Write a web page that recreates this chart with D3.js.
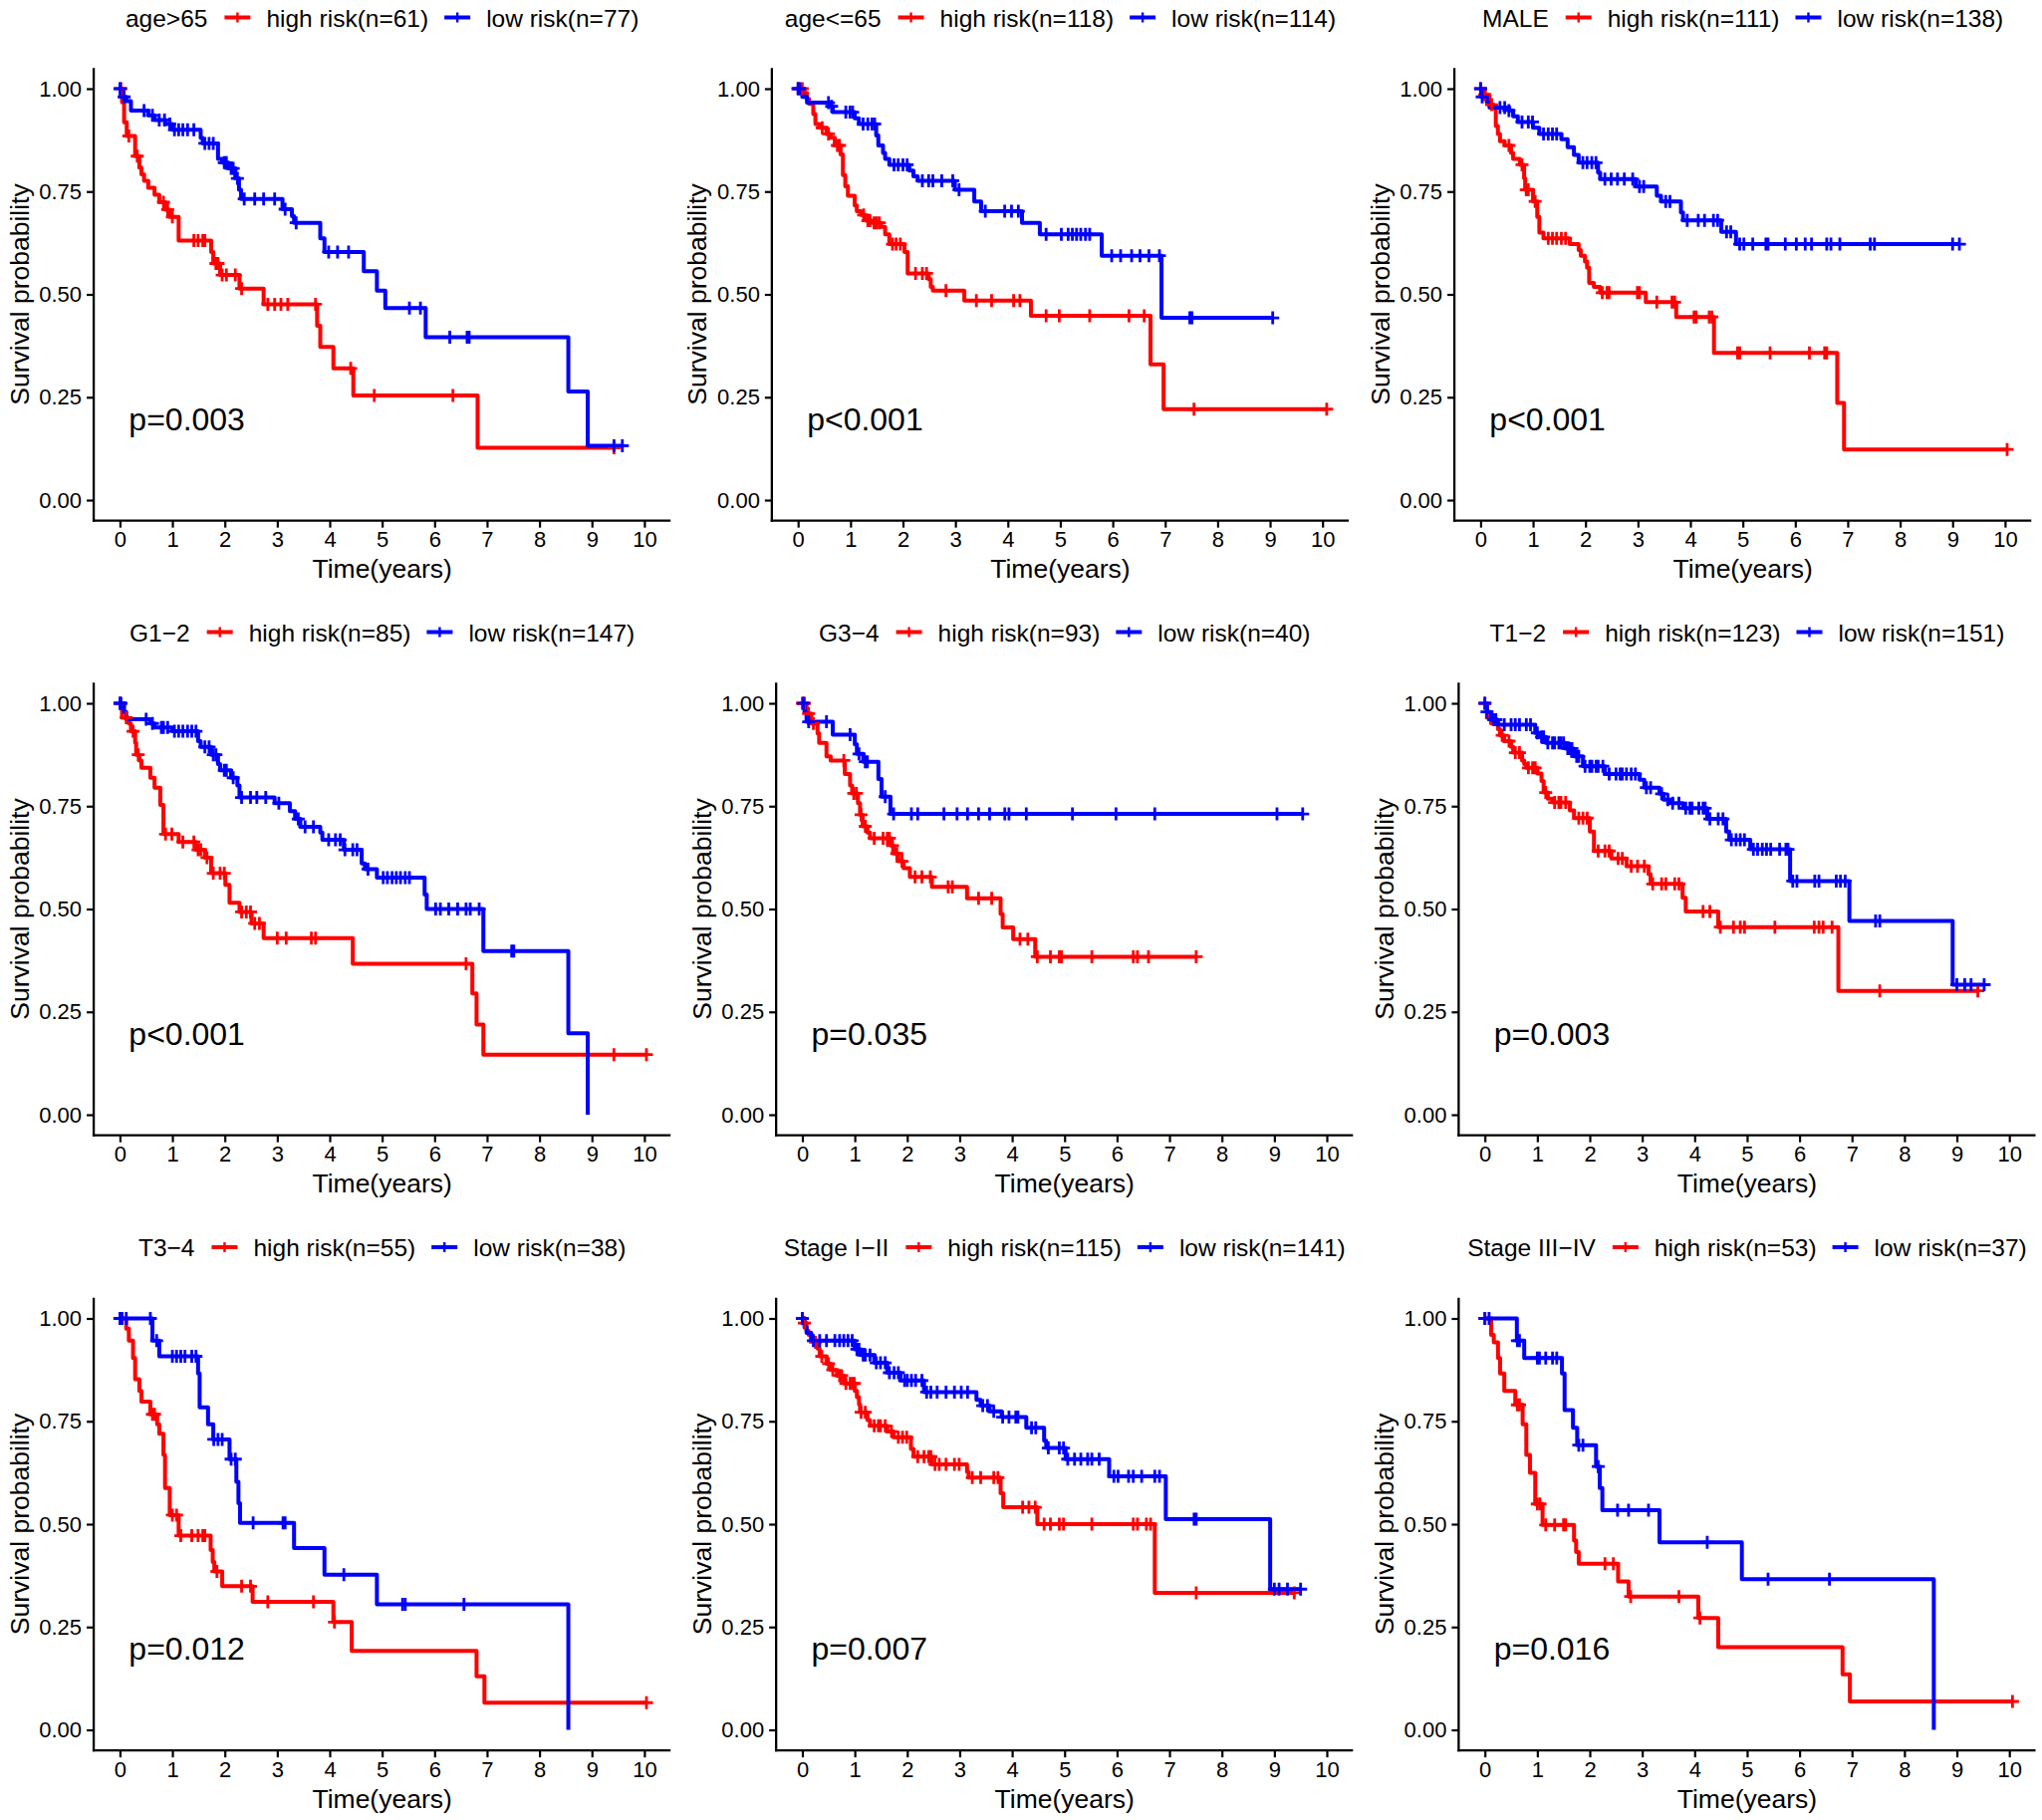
<!DOCTYPE html>
<html><head><meta charset="utf-8">
<script src="https://cdn.jsdelivr.net/npm/d3@7"></script>
<style>
body{margin:0;background:#fff}
svg{display:block}
text{font-family:"Liberation Sans",Arial,sans-serif;fill:#000}
</style>
</head><body><svg id="chart" width="2050" height="1827"></svg>
<script>
// ---------------- data ----------------
const panelTitles = ["age>65","age<=65","MALE","G1\u22122","G3\u22124","T1\u22122","T3\u22124","Stage I\u2212II","Stage III\u2212IV"];
const highN = [61,118,111,85,93,123,55,115,53];
const lowN  = [77,114,138,147,40,151,38,141,37];
const pLabels = ["p=0.003","p<0.001","p<0.001","p<0.001","p=0.035","p=0.003","p=0.012","p=0.007","p=0.016"];
const xTicks = [0,1,2,3,4,5,6,7,8,9,10];
const yTicks = [0,0.25,0.5,0.75,1];
const yTickLabels = ["0.00","0.25","0.50","0.75","1.00"];
const groupLabels = ["high risk","low risk"];
const groupColors = ["#FF0000","#0000FF"];

// panel 1: age>65
const ageGt65HighSteps = [[0,1],[0.04,0.967],[0.08,0.918],[0.13,0.885],[0.29,0.836],[0.37,0.808],[0.41,0.792],[0.46,0.776],[0.54,0.759],[0.66,0.742],[0.75,0.724],[0.87,0.706],[0.95,0.688],[1.12,0.631],[1.74,0.603],[1.78,0.575],[1.91,0.547],[2.28,0.514],[2.74,0.476],[3.76,0.424],[3.82,0.372],[4.07,0.32],[4.45,0.254],[6.82,0.127]];
const ageGt65HighCensor = [0.02,0.17,0.33,0.83,0.91,1.0,1.41,1.49,1.58,1.62,1.83,1.87,1.95,2.03,2.2,2.32,2.82,2.95,3.07,3.2,3.73,4.4,4.85,6.35,9.42];
const ageGt65LowSteps = [[0,1],[0.02,0.98],[0.12,0.97],[0.21,0.947],[0.54,0.935],[0.66,0.924],[0.87,0.914],[1.0,0.9],[1.54,0.88],[1.58,0.867],[1.87,0.829],[1.95,0.82],[2.07,0.806],[2.2,0.782],[2.27,0.754],[2.31,0.732],[3.1,0.707],[3.28,0.69],[3.32,0.674],[3.82,0.636],[3.9,0.603],[4.65,0.556],[4.9,0.509],[5.06,0.467],[5.83,0.396],[8.55,0.264],[8.92,0.132]];
const ageGt65LowCensor = [0,0.08,0.46,0.62,0.75,0.85,0.95,1.04,1.12,1.2,1.29,1.41,1.62,1.7,1.78,1.99,2.03,2.12,2.16,2.24,2.37,2.57,2.74,2.95,3.15,3.36,3.98,4.15,4.36,5.52,5.73,6.29,6.62,6.66,9.42,9.58];

// panel 2: age<=65
const ageLe65HighSteps = [[0,1],[0.12,0.99],[0.17,0.975],[0.21,0.963],[0.29,0.938],[0.33,0.914],[0.41,0.905],[0.54,0.89],[0.62,0.881],[0.7,0.862],[0.81,0.84],[0.855,0.79],[0.9,0.763],[0.95,0.74],[1.08,0.716],[1.12,0.702],[1.2,0.693],[1.29,0.679],[1.41,0.674],[1.58,0.664],[1.66,0.646],[1.74,0.622],[2.03,0.603],[2.09,0.551],[2.49,0.537],[2.53,0.518],[2.57,0.509],[3.17,0.485],[4.44,0.448],[6.72,0.33],[6.97,0.221]];
const ageLe65HighCensor = [0,0.08,0.46,0.58,0.75,0.79,1.25,1.33,1.37,1.45,1.5,1.55,1.8,1.87,1.95,2.24,2.37,2.45,2.82,3.4,3.69,4.11,4.23,4.73,4.98,5.56,6.31,6.6,7.55,10.08];
const ageLe65LowSteps = [[0,1],[0.04,0.99],[0.08,0.98],[0.17,0.966],[0.62,0.957],[0.66,0.943],[1.08,0.928],[1.16,0.914],[1.49,0.886],[1.53,0.862],[1.62,0.844],[1.66,0.829],[1.74,0.815],[2.12,0.801],[2.2,0.787],[2.28,0.776],[2.99,0.754],[3.36,0.726],[3.49,0.702],[4.27,0.674],[4.61,0.646],[5.79,0.594],[6.93,0.443]];
const ageLe65LowCensor = [0,0.03,0.58,0.64,0.91,0.99,1.04,1.24,1.33,1.41,1.46,1.83,1.91,2.0,2.08,2.37,2.49,2.57,2.74,2.95,3.07,3.57,3.94,4.07,4.2,4.73,5.02,5.15,5.23,5.31,5.39,5.48,5.56,5.98,6.15,6.36,6.52,6.69,6.89,7.47,7.51,9.05];

// panel 3: MALE
const maleHighSteps = [[0,1],[0.08,0.985],[0.17,0.961],[0.25,0.952],[0.29,0.909],[0.33,0.89],[0.37,0.872],[0.46,0.862],[0.58,0.844],[0.62,0.829],[0.75,0.815],[0.83,0.782],[0.85,0.754],[1.0,0.726],[1.08,0.688],[1.12,0.65],[1.2,0.636],[1.7,0.622],[1.87,0.608],[1.91,0.594],[1.99,0.58],[2.03,0.565],[2.07,0.528],[2.16,0.518],[2.28,0.504],[3.15,0.481],[3.73,0.445],[4.45,0.358],[6.8,0.236],[6.93,0.123]];
const maleHighCensor = [0,0.08,0.21,0.54,0.79,0.87,0.91,1.04,1.29,1.37,1.45,1.54,1.62,2.32,2.41,2.45,2.99,3.03,3.36,3.65,3.7,4.07,4.11,4.36,4.41,4.9,4.94,5.52,6.27,6.56,6.6,10.04];
const maleLowSteps = [[0,1],[0.01,0.98],[0.12,0.966],[0.17,0.954],[0.54,0.947],[0.62,0.933],[0.71,0.919],[1.0,0.905],[1.12,0.89],[1.54,0.877],[1.66,0.858],[1.78,0.839],[1.87,0.82],[2.24,0.796],[2.28,0.78],[2.96,0.762],[3.36,0.74],[3.44,0.726],[3.82,0.699],[3.86,0.68],[4.59,0.652],[4.87,0.622]];
const maleLowCensor = [0,0.03,0.37,0.46,0.54,0.79,0.91,0.99,1.2,1.29,1.37,1.45,1.95,2.03,2.12,2.2,2.37,2.49,2.61,2.74,2.9,3.03,3.11,3.53,3.61,3.94,4.15,4.27,4.44,4.52,4.69,4.77,4.94,5.02,5.19,5.44,5.48,5.81,6.02,6.19,6.31,6.6,6.68,6.85,7.43,7.51,9.0,9.13];

// panel 4: G1-2
const g12HighSteps = [[0,1],[0.04,0.965],[0.17,0.951],[0.21,0.932],[0.29,0.904],[0.31,0.875],[0.37,0.861],[0.41,0.843],[0.58,0.819],[0.66,0.795],[0.77,0.753],[0.83,0.682],[1.12,0.663],[1.45,0.644],[1.62,0.625],[1.74,0.587],[2.01,0.559],[2.09,0.515],[2.28,0.493],[2.51,0.465],[2.74,0.429],[4.44,0.367],[6.72,0.295],[6.8,0.219],[6.93,0.146]];
const g12HighCensor = [0,0.12,0.25,0.35,0.87,0.99,1.2,1.41,1.49,1.54,1.66,1.78,1.91,1.99,2.32,2.41,2.49,2.57,2.66,3.0,3.17,3.65,3.73,6.6,9.42,10.04];
const g12LowSteps = [[0,1],[0.08,0.979],[0.12,0.961],[0.58,0.951],[0.66,0.941],[1.0,0.932],[1.49,0.908],[1.54,0.894],[1.74,0.875],[1.87,0.852],[1.91,0.837],[2.12,0.819],[2.24,0.8],[2.28,0.771],[2.95,0.757],[3.24,0.738],[3.34,0.719],[3.44,0.7],[3.82,0.686],[3.86,0.668],[4.27,0.644],[4.61,0.611],[4.67,0.597],[4.9,0.576],[5.81,0.535],[5.85,0.5],[6.93,0.398],[8.55,0.198],[8.92,0]];
const g12LowCensor = [0,0.02,0.5,0.62,0.79,0.83,0.91,1.04,1.12,1.2,1.29,1.37,1.45,1.62,1.7,1.78,1.83,1.99,2.03,2.16,2.32,2.49,2.61,2.78,3.03,3.4,3.53,3.69,3.98,4.11,4.2,4.29,4.44,4.52,4.73,5.02,5.1,5.19,5.27,5.35,5.44,5.52,6.02,6.11,6.27,6.44,6.6,6.68,6.85,7.47,7.51];

// panel 5: G3-4
const g34HighSteps = [[0,1],[0.08,0.975],[0.17,0.951],[0.29,0.927],[0.32,0.904],[0.46,0.871],[0.54,0.861],[0.81,0.828],[0.91,0.8],[0.95,0.781],[1.06,0.757],[1.1,0.729],[1.15,0.701],[1.24,0.686],[1.29,0.672],[1.7,0.654],[1.74,0.635],[1.83,0.616],[1.93,0.599],[2.05,0.578],[2.47,0.554],[3.14,0.526],[3.78,0.488],[3.82,0.455],[4.02,0.427],[4.44,0.384]];
const g34HighCensor = [0,0.04,0.12,0.21,0.79,0.98,1.03,1.12,1.2,1.37,1.54,1.62,1.66,1.72,1.8,1.9,2.15,2.28,2.44,2.78,2.86,3.36,3.61,4.15,4.3,4.48,4.73,4.9,4.94,5.52,6.31,6.39,6.6,7.51];
const g34LowSteps = [[0,1],[0.04,0.98],[0.08,0.955],[0.58,0.924],[1.0,0.9],[1.04,0.877],[1.16,0.858],[1.45,0.816],[1.51,0.773],[1.68,0.731]];
const g34LowCensor = [0.02,0.12,0.46,0.91,1.08,1.2,1.24,1.58,1.74,2.08,2.2,2.7,2.95,3.15,3.36,3.57,3.86,3.94,4.27,5.15,5.98,6.72,9.05,9.54];

// panel 6: T1-2
const t12HighSteps = [[0,1],[0.04,0.965],[0.12,0.951],[0.25,0.937],[0.29,0.922],[0.37,0.908],[0.5,0.894],[0.54,0.88],[0.71,0.861],[0.75,0.852],[0.79,0.843],[1.0,0.829],[1.08,0.811],[1.12,0.783],[1.2,0.768],[1.29,0.759],[1.62,0.74],[1.7,0.721],[2.0,0.688],[2.08,0.641],[2.41,0.623],[2.7,0.604],[3.12,0.585],[3.16,0.561],[3.77,0.527],[3.83,0.494],[4.45,0.456],[6.74,0.301]];
const t12HighCensor = [0,0.33,0.46,0.58,0.66,0.83,0.91,0.96,1.16,1.33,1.41,1.45,1.54,1.79,1.87,1.95,2.16,2.29,2.37,2.54,2.62,2.79,2.91,3.04,3.2,3.37,3.45,3.62,3.7,4.16,4.29,4.49,4.74,4.87,4.95,5.53,6.28,6.37,6.45,6.62,7.53,9.4];
const t12LowSteps = [[0,1],[0.04,0.979],[0.12,0.96],[0.25,0.948],[0.96,0.928],[1.04,0.918],[1.16,0.904],[1.54,0.89],[1.7,0.871],[1.87,0.847],[2.29,0.828],[2.95,0.814],[3.04,0.795],[3.33,0.78],[3.41,0.766],[3.54,0.757],[3.78,0.745],[4.24,0.719],[4.6,0.688],[4.66,0.668],[5.06,0.645],[5.82,0.568],[6.95,0.471],[8.92,0.316]];
const t12LowCensor = [0,0.04,0.17,0.21,0.37,0.5,0.58,0.66,0.79,0.87,1.0,1.08,1.12,1.2,1.29,1.33,1.41,1.45,1.5,1.58,1.62,1.66,1.75,1.79,1.91,2.0,2.04,2.12,2.16,2.25,2.37,2.5,2.58,2.62,2.7,2.79,2.87,3.08,3.16,3.37,3.49,3.58,3.7,3.83,3.91,3.95,4.08,4.16,4.2,4.29,4.45,4.54,4.7,4.79,4.87,4.95,5.12,5.2,5.29,5.37,5.45,5.62,5.74,5.78,5.87,5.95,6.29,6.37,6.7,6.78,6.87,7.45,7.53,9.0,9.15,9.27,9.52];

// panel 7: T3-4
const t34HighSteps = [[0,1],[0.12,0.975],[0.17,0.946],[0.25,0.904],[0.29,0.852],[0.37,0.824],[0.41,0.798],[0.58,0.767],[0.71,0.743],[0.75,0.72],[0.83,0.668],[0.86,0.588],[0.95,0.522],[1.12,0.472],[1.73,0.437],[1.77,0.408],[1.8,0.385],[1.95,0.349],[2.53,0.311],[4.07,0.262],[4.42,0.192],[6.8,0.13],[6.95,0.066]];
const t34HighCensor = [0,0.62,0.66,1.0,1.08,1.16,1.37,1.49,1.58,1.62,1.85,2.32,2.49,2.82,3.69,4.09,10.04];
const t34LowSteps = [[0,1],[0.62,0.946],[0.75,0.908],[1.49,0.866],[1.52,0.784],[1.68,0.743],[1.78,0.706],[2.09,0.658],[2.22,0.603],[2.26,0.551],[2.29,0.503],[3.32,0.442],[3.9,0.377],[4.9,0.305],[8.55,0]];
const t34LowCensor = [0,0.04,0.12,0.58,0.7,1.0,1.08,1.16,1.24,1.37,1.45,1.79,1.87,1.95,2.12,2.2,2.54,3.11,3.15,4.27,5.39,5.44,6.56];

// panel 8: Stage I-II
const s12HighSteps = [[0,1],[0.04,0.989],[0.08,0.97],[0.12,0.96],[0.17,0.951],[0.21,0.942],[0.29,0.927],[0.33,0.908],[0.46,0.89],[0.54,0.875],[0.66,0.861],[0.79,0.842],[1.0,0.824],[1.04,0.809],[1.08,0.791],[1.1,0.772],[1.24,0.753],[1.29,0.739],[1.62,0.725],[1.74,0.711],[2.07,0.683],[2.12,0.664],[2.47,0.645],[3.14,0.627],[3.17,0.613],[3.78,0.575],[3.83,0.541],[4.48,0.5],[6.72,0.333]];
const s12HighCensor = [0,0.04,0.25,0.37,0.5,0.58,0.71,0.75,0.83,0.91,0.95,0.99,1.12,1.2,1.37,1.45,1.49,1.58,1.7,1.83,1.91,1.99,2.2,2.32,2.41,2.45,2.53,2.61,2.74,2.9,2.99,3.24,3.4,3.65,3.73,4.2,4.32,4.44,4.61,4.73,4.9,4.98,5.52,6.31,6.39,6.56,6.64,7.51,9.38];
const s12LowSteps = [[0,1],[0.04,0.979],[0.08,0.965],[0.17,0.946],[1.0,0.925],[1.12,0.911],[1.37,0.892],[1.62,0.868],[1.87,0.849],[2.32,0.821],[3.32,0.802],[3.4,0.788],[3.57,0.774],[3.8,0.76],[4.27,0.734],[4.61,0.703],[4.65,0.685],[5.02,0.658],[5.85,0.616],[6.93,0.512],[8.92,0.342]];
const s12LowCensor = [0,0.21,0.33,0.46,0.62,0.71,0.79,0.87,0.95,1.04,1.08,1.16,1.2,1.29,1.41,1.49,1.58,1.66,1.75,1.83,1.95,2.0,2.08,2.16,2.28,2.37,2.45,2.57,2.74,2.9,3.03,3.15,3.44,3.53,3.65,3.82,3.94,4.07,4.11,4.37,4.45,4.69,4.9,4.98,5.06,5.19,5.31,5.44,5.52,5.66,5.94,6.02,6.22,6.31,6.47,6.72,6.81,7.47,7.51,9.0,9.09,9.25,9.5];

// panel 9: Stage III-IV
const s34HighSteps = [[0,1],[0.12,0.96],[0.17,0.942],[0.25,0.904],[0.29,0.866],[0.37,0.824],[0.58,0.79],[0.72,0.743],[0.79,0.668],[0.86,0.625],[0.96,0.549],[1.1,0.498],[1.7,0.46],[1.74,0.432],[1.79,0.404],[2.54,0.361],[2.74,0.324],[4.07,0.272],[4.45,0.201],[6.82,0.135],[6.96,0.069]];
const s34HighCensor = [0,0.62,0.66,1.0,1.05,1.16,1.33,1.5,1.54,2.29,2.45,2.78,3.7,4.1,10.06];
const s34LowSteps = [[0,1],[0.61,0.946],[0.75,0.904],[1.47,0.866],[1.52,0.777],[1.68,0.734],[1.76,0.692],[2.12,0.64],[2.19,0.588],[2.24,0.534],[3.33,0.456],[4.9,0.366],[8.56,0]];
const s34LowCensor = [0,0.08,0.62,0.66,1.0,1.04,1.16,1.29,1.37,1.79,1.87,2.16,2.53,2.74,3.12,4.24,5.4,6.57];

const highStepsList = [ageGt65HighSteps,ageLe65HighSteps,maleHighSteps,g12HighSteps,g34HighSteps,t12HighSteps,t34HighSteps,s12HighSteps,s34HighSteps];
const highCensorList = [ageGt65HighCensor,ageLe65HighCensor,maleHighCensor,g12HighCensor,g34HighCensor,t12HighCensor,t34HighCensor,s12HighCensor,s34HighCensor];
const lowStepsList = [ageGt65LowSteps,ageLe65LowSteps,maleLowSteps,g12LowSteps,g34LowSteps,t12LowSteps,t34LowSteps,s12LowSteps,s34LowSteps];
const lowCensorList = [ageGt65LowCensor,ageLe65LowCensor,maleLowCensor,g12LowCensor,g34LowCensor,t12LowCensor,t34LowCensor,s12LowCensor,s34LowCensor];

// ---------------- layout ----------------
const rowYOne = [89, 706, 1323.5];          // pixel row of survival = 1
const unitH = 413;                          // pixels per survival unit
const colXZero = [[120.4, 801.2, 1486.4],[120.4, 805.5, 1490.7],[120.4, 805.5, 1490.7]];
const perYear = 52.65;
const FONT = '"Liberation Sans", Arial, sans-serif';

const svg = d3.select("#chart");
svg.append("rect").attr("width",2050).attr("height",1827).attr("fill","#fff");

function survAt(steps, t){
  let s = steps[0][1];
  for (const [st, sv] of steps){ if (st <= t) s = sv; else break; }
  return s;
}

const plusPath = (h) => `M${-h},0H${h}M0,${-h}V${h}`;

for (let i = 0; i < 9; i++){
  const r = Math.floor(i/3), c = i % 3;
  const yOne = rowYOne[r], xZero = colXZero[r][c];
  const x = d3.scaleLinear().domain([-0.5, 10.5]).range([xZero - 0.5*perYear, xZero + 10.5*perYear]);
  const y = d3.scaleLinear().domain([-0.05, 1.05]).range([yOne + 1.05*unitH, yOne - 0.05*unitH]);
  const g = svg.append("g");
  const [x0, x1] = x.range();
  const [yb, yt] = y.range();

  // axes
  const xAxis = d3.axisBottom(x).tickValues(xTicks).tickFormat(d3.format("d")).tickSize(7).tickSizeOuter(0).tickPadding(4);
  const gx = g.append("g").attr("transform", `translate(0,${yb})`).call(xAxis);
  const yAxis = d3.axisLeft(y).tickValues(yTicks).tickFormat((d,k)=>yTickLabels[k]).tickSize(7).tickSizeOuter(0).tickPadding(5);
  const gy = g.append("g").attr("transform", `translate(${x0},0)`).call(yAxis);
  [gx, gy].forEach(ax => {
    ax.select(".domain").attr("stroke","#000").attr("stroke-width",2.3);
    ax.selectAll(".tick line").attr("stroke","#000").attr("stroke-width",2.2);
    ax.selectAll(".tick text").attr("font-size",22).attr("font-family",FONT).attr("fill","#000");
  });
  gx.select(".domain").attr("d", `M${x0-1.15},0H${x1}`);
  gy.select(".domain").attr("d", `M0,${yt}V${yb+1.15}`);

  // axis titles
  g.append("text").attr("x",(x0+x1)/2).attr("y", yOne + 491).attr("text-anchor","middle")
    .attr("font-size",26.5).text("Time(years)");
  g.append("text").attr("transform",`translate(${x0-65.5},${y(0.5)}) rotate(-90)`).attr("text-anchor","middle")
    .attr("font-size",26.5).text("Survival probability");

  // curves
  const groups = [
    {steps: highStepsList[i], cens: highCensorList[i], color: groupColors[0]},
    {steps: lowStepsList[i],  cens: lowCensorList[i],  color: groupColors[1]}
  ];
  const line = d3.line().x(d=>x(d[0])).y(d=>y(d[1])).curve(d3.curveStepAfter);
  groups.forEach(gr => {
    const lastStep = gr.steps[gr.steps.length-1];
    const tEnd = Math.max(lastStep[0], d3.max(gr.cens));
    const pts = gr.steps.concat([[tEnd, lastStep[1]]]);
    g.append("path").attr("d", line(pts)).attr("fill","none").attr("stroke",gr.color)
      .attr("stroke-width",4).attr("stroke-linejoin","round");
  });
  groups.forEach(gr => {
    g.append("g").selectAll("path").data(gr.cens).join("path")
      .attr("transform", t => `translate(${x(t)},${y(survAt(gr.steps,t))})`)
      .attr("d", plusPath(6.5)).attr("stroke",gr.color).attr("stroke-width",2.8).attr("fill","none");
  });

  // p-value
  g.append("text").attr("x", x(0.17)).attr("y", y(0.17)).attr("font-size",32).text(pLabels[i]);

  // legend (centered over plot)
  const lg = g.append("g");
  const baseY = yOne - 62.5;
  const keyY = baseY - 9;
  const fs = 24.5;
  const tTitle = lg.append("text").attr("y",baseY).attr("font-size",fs).text(panelTitles[i]);
  const labels = [
    `${groupLabels[0]}(n=${highN[i]})`,
    `${groupLabels[1]}(n=${lowN[i]})`
  ];
  let cx = 0;
  tTitle.attr("x", cx);
  cx += tTitle.node().getComputedTextLength() + 17;
  labels.forEach((lab, k) => {
    const kx = cx;
    lg.append("line").attr("x1",kx).attr("x2",kx+26).attr("y1",keyY).attr("y2",keyY)
      .attr("stroke",groupColors[k]).attr("stroke-width",4);
    lg.append("path").attr("transform",`translate(${kx+13},${keyY})`).attr("d",plusPath(5))
      .attr("stroke",groupColors[k]).attr("stroke-width",2.4);
    cx += 26 + 16;
    const tt = lg.append("text").attr("x",cx).attr("y",baseY).attr("font-size",fs).text(lab);
    cx += tt.node().getComputedTextLength() + (k === 0 ? 16 : 0);
  });
  const shift = (x0 + x1)/2 - cx/2;
  lg.attr("transform", `translate(${shift},0)`);
}
</script></body></html>
